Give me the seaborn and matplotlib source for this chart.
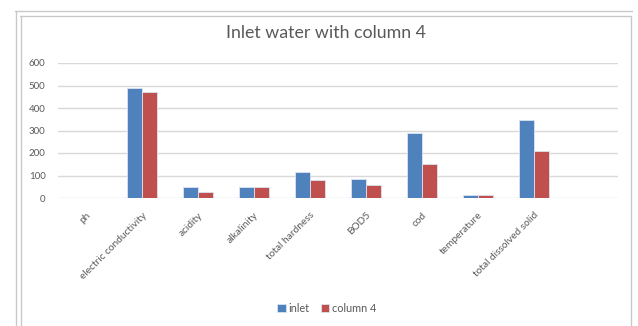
import matplotlib
matplotlib.use("Agg")
import matplotlib.pyplot as plt
from matplotlib.lines import Line2D
import numpy as np
import pandas as pd
import seaborn as sns

categories = ["ph", "electric conductivity", "acidity", "alkalinity",
              "total hardness", "BOD5", "cod", "temperature",
              "total dissolved solid", ""]
inlet = [np.nan, 487, 50, 50, 116, 86, 287, 13, 347, np.nan]
column4 = [np.nan, 469, 25, 50, 82, 57, 153, 13, 208, np.nan]
series_names = ["inlet", "column 4"]
yticks = [0, 100, 200, 300, 400, 500, 600]

df = pd.DataFrame({
    "parameter": categories * 2,
    "value": inlet + column4,
    "series": [series_names[0]] * len(categories) + [series_names[1]] * len(categories),
})

sns.set_theme(style="white")
plt.rcParams["font.family"] = ["Lato", "DejaVu Sans"]

W, H = 638, 326
fig = plt.figure(figsize=(W / 100, H / 100), dpi=100)
fig.patch.set_facecolor("white")

ax = fig.add_axes([58 / W, 1 - 198 / H, 560 / W, 135 / H])
sns.barplot(data=df, x="parameter", y="value", hue="series", order=categories,
            hue_order=series_names, palette=["#4F81BD", "#C0504D"],
            width=0.55, saturation=1, edgecolor="#dbe5f1", linewidth=0.6,
            ax=ax, legend=True)

ax.set_ylim(0, 600)
ax.set_xlim(-0.5, len(categories) - 0.5)
ax.set_yticks(yticks)
ax.set_yticklabels([str(t) for t in yticks])
ax.yaxis.grid(True, color="#d9d9d9", linewidth=1)
ax.set_axisbelow(True)
for s in ax.spines.values():
    s.set_visible(False)
ax.set_xlabel("")
ax.set_ylabel("")
ax.tick_params(axis="y", length=0, pad=9, labelsize=7, labelcolor="#595959")
ax.tick_params(axis="x", length=0, pad=9, labelsize=7.3, labelcolor="#595959")
for lab in ax.get_xticklabels():
    lab.set_rotation(45)
    lab.set_ha("right")
    lab.set_rotation_mode("anchor")

ax.legend(loc="center", bbox_to_anchor=(327 / W, 1 - 308 / H),
          bbox_transform=fig.transFigure, ncol=2, frameon=False,
          fontsize=7.8, handlelength=0.75, handleheight=0.75, handletextpad=0.3,
          columnspacing=1.0, labelcolor="#595959")

fig.text(326 / W, 1 - 33 / H, "Inlet water with column 4", ha="center",
         va="center", fontsize=12.8, color="#595959")

# chart-area frame
fc = "#c8c8c8"
def fline(xs, ys, lw=1.0):
    fig.add_artist(Line2D([x / W for x in xs], [1 - y / H for y in ys],
                          color=fc, linewidth=lw, transform=fig.transFigure))
fline([15, 632], [10.5, 10.5])
fline([20, 630], [15.5, 15.5])
fline([16, 16], [12, 326])
fline([20.5, 20.5], [15.5, 326])
fline([630.5, 630.5], [15.5, 326])

fig.savefig("out.png", dpi=100, facecolor="white")
